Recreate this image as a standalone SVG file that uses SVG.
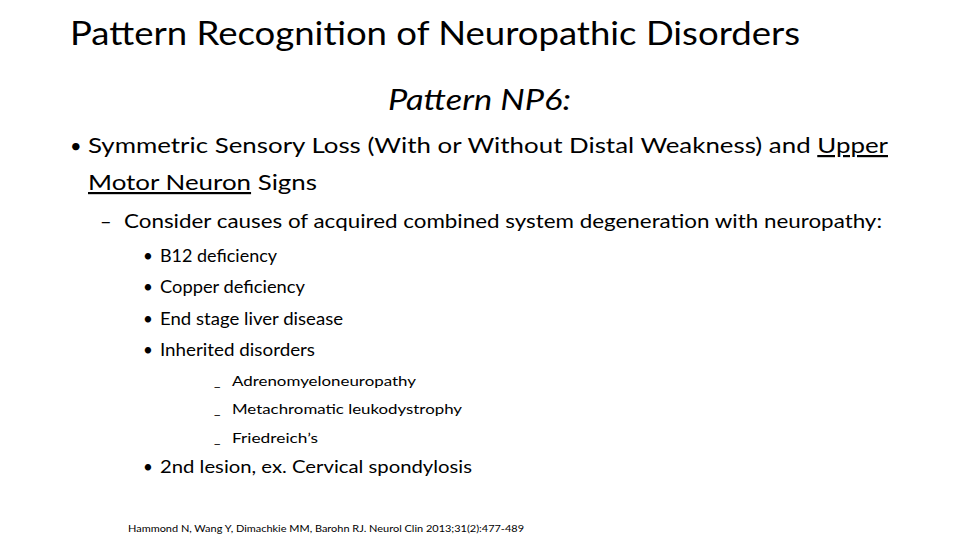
<svg xmlns="http://www.w3.org/2000/svg" width="960" height="540" viewBox="0 0 960 540">
<style>
text{font-family:Lato,"Open Sans",sans-serif;fill:#000}
.u{text-decoration:underline}
</style>
<rect width="960" height="540" fill="#fff"/>
<text x="70" y="45" font-size="33" textLength="730" lengthAdjust="spacingAndGlyphs">Pattern Recognition of Neuropathic Disorders</text>
<text x="388" y="110" font-size="28" font-style="italic" textLength="183" lengthAdjust="spacingAndGlyphs">Pattern NP6:</text>
<text x="70" y="153" font-size="20">•</text>
<text x="88" y="153" font-size="22" textLength="800" lengthAdjust="spacingAndGlyphs">Symmetric Sensory Loss (With or Without Distal Weakness) and <tspan class="u">Upper</tspan></text>
<text x="88" y="190" font-size="22" textLength="229" lengthAdjust="spacingAndGlyphs"><tspan class="u">Motor Neuron</tspan> Signs</text>
<text x="100" y="228" font-size="20">–</text>
<text x="124" y="228" font-size="20" textLength="758" lengthAdjust="spacingAndGlyphs">Consider causes of acquired combined system degeneration with neuropathy:</text>
<g font-size="17">
<text x="143" y="262">•</text><text x="160" y="262" textLength="117" lengthAdjust="spacingAndGlyphs">B12 deficiency</text>
<text x="143" y="293">•</text><text x="160" y="293" textLength="145" lengthAdjust="spacingAndGlyphs">Copper deficiency</text>
<text x="143" y="325">•</text><text x="160" y="325" textLength="183" lengthAdjust="spacingAndGlyphs">End stage liver disease</text>
<text x="143" y="356">•</text><text x="160" y="356" textLength="155" lengthAdjust="spacingAndGlyphs">Inherited disorders</text>
<text x="143" y="473">•</text><text x="160" y="473" textLength="312" lengthAdjust="spacingAndGlyphs">2nd lesion, ex. Cervical spondylosis</text>
</g>
<g font-size="14">
<text x="214" y="386">_</text><text x="232" y="386" textLength="184" lengthAdjust="spacingAndGlyphs">Adrenomyeloneuropathy</text>
<text x="214" y="414">_</text><text x="232" y="414" textLength="230" lengthAdjust="spacingAndGlyphs">Metachromatic leukodystrophy</text>
<text x="214" y="443">_</text><text x="232" y="443" textLength="86" lengthAdjust="spacingAndGlyphs">Friedreich’s</text>
</g>
<text x="128" y="532" font-size="10" textLength="396" lengthAdjust="spacingAndGlyphs">Hammond N, Wang Y, Dimachkie MM, Barohn RJ. Neurol Clin 2013;31(2):477-489</text>
</svg>
